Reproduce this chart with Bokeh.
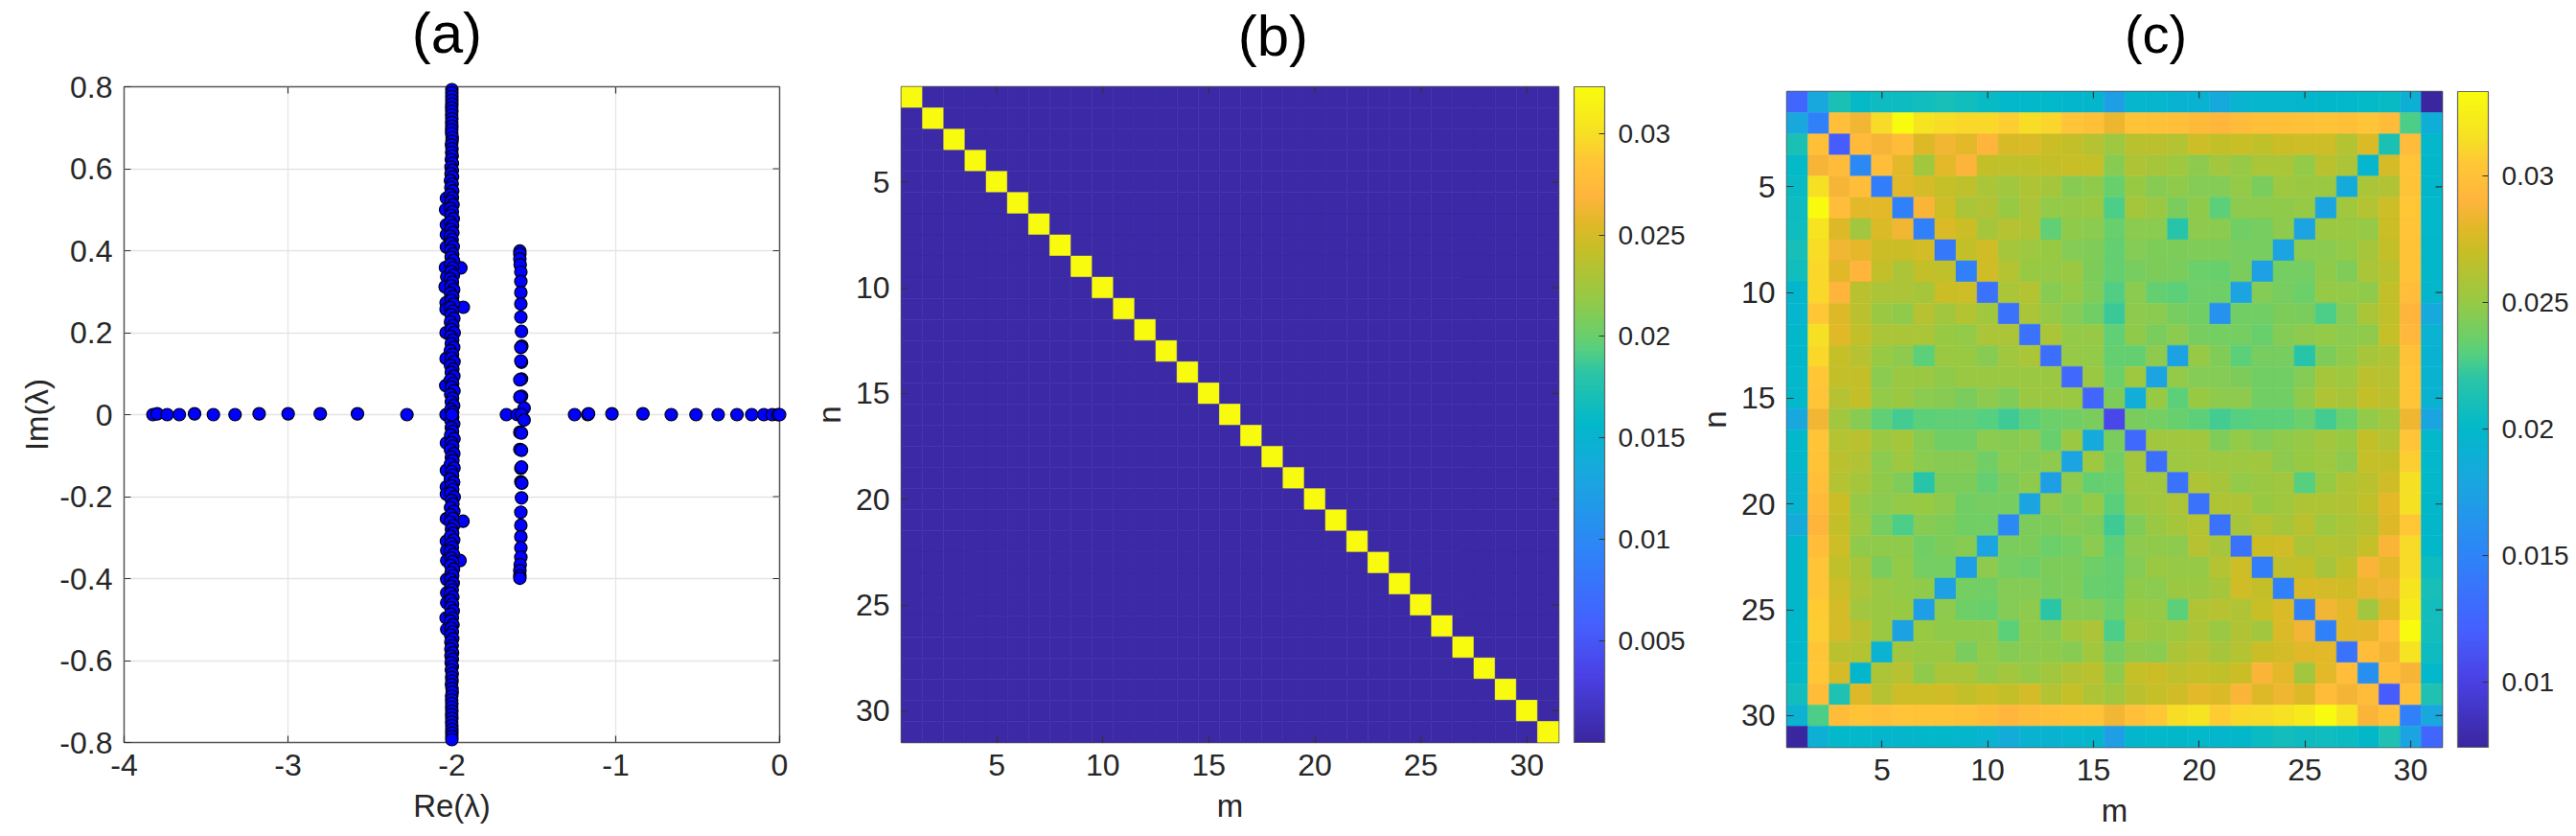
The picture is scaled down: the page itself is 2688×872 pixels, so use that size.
from bokeh.plotting import figure
from bokeh.models import (FixedTicker, ColorBar, LinearColorMapper, ColumnDataSource,
                          Range1d, NumeralTickFormatter)
from bokeh.core.properties import value
from bokeh.layouts import row
from bokeh.embed import file_html
from bokeh.resources import INLINE

# ---------- panel (a): eigenvalues (re, im) ----------
axis_points = [(-3.824,0),(-3.798,.002),(-3.737,0),(-3.663,0),(-3.570,.002),(-3.455,0),(-3.323,0),(-3.176,.002),
 (-2.999,.002),(-2.803,.002),(-2.576,.002),(-2.274,0),(-2.035,0),(-1.667,0),(-1.600,0),(-1.251,0),(-1.171,0),(-1.166,.002),
 (-1.023,.002),(-0.834,.002),(-0.661,0),(-0.510,0),(-0.375,0),(-0.260,0),(-0.170,0),(-0.096,0),(-0.045,0),(-0.010,0),(0,0)]
upper_outliers = [(-2.033,.528),(-2.038,.500),(-2.033,.463),(-2.033,.439),(-2.033,.409),(-2.039,.359),(-2.031,.336),
 (-2.041,.312),(-2.035,.273),(-2.035,.257),(-2.035,.200),(-2.035,.137),(-2.037,.071),(-1.945,.358),(-1.930,.262)]
lower_outliers = [(-2.033,-.069),(-2.033,-.136),(-2.033,-.176),(-2.033,-.194),(-2.033,-.254),(-2.033,-.309),(-2.031,-.331),
 (-2.031,-.356),(-2.031,-.402),(-2.031,-.435),(-2.031,-.459),(-2.035,-.496),(-2.031,-.524),(-1.932,-.260),(-1.950,-.356)]
upper_line = [(-2.000,.793),(-2.000,.785),(-2.000,.776),(-2.000,.767),(-2.000,.758),(-2.001,.749),(-2.000,.740),(-2.001,.731),
 (-2.000,.722),(-2.001,.713),(-2.000,.704),(-2.001,.695),(-2.001,.686),(-1.998,.676),(-1.999,.667),(-2.002,.658),(-1.999,.649),
 (-2.001,.640),(-1.998,.631),(-2.003,.622),(-1.997,.613),(-2.005,.604),(-1.997,.596),(-2.005,.588),(-1.996,.580),(-2.008,.571),
 (-1.998,.563),(-2.006,.554),(-1.995,.546),(-2.009,.537),(-1.997,.529),(-2.004,.520),(-1.993,.512),(-2.008,.503),(-1.997,.495),
 (-2.006,.486),(-1.992,.478),(-2.009,.470),(-1.996,.461),(-2.005,.452),(-1.994,.444),(-2.010,.435),(-1.998,.427),(-2.004,.418),
 (-1.992,.410),(-2.007,.401),(-1.995,.392),(-2.004,.384),(-1.990,.376),(-2.008,.367),(-1.996,.358),(-2.003,.349),(-1.991,.340),
 (-2.009,.332),(-1.997,.323),(-2.004,.314),(-1.989,.305),(-2.008,.296),(-1.995,.288),(-2.002,.279),(-1.990,.270),(-2.009,.261),
 (-1.996,.252),(-2.004,.244),(-1.988,.235),(-2.008,.226),(-1.994,.217),(-2.002,.208),(-1.986,.200),(-2.007,.191),(-1.995,.182),
 (-2.003,.173),(-1.989,.164),(-2.009,.156),(-1.996,.147),(-2.002,.138),(-1.987,.129),(-2.008,.120),(-1.994,.111),(-2.003,.103),
 (-1.988,.094),(-2.008,.085),(-1.995,.076),(-2.002,.067),(-1.987,.058),(-2.007,.049),(-1.996,.040),(-2.003,.031),(-1.989,.022),
 (-2.006,.013),(-1.995,.006)]
lower_line = [(-1.995,-.006),(-2.006,-.014),(-1.989,-.023),(-2.003,-.032),(-1.996,-.041),(-2.007,-.050),(-1.987,-.059),(-2.002,-.068),
 (-1.995,-.077),(-2.008,-.086),(-1.988,-.095),(-2.003,-.104),(-1.994,-.112),(-2.008,-.121),(-1.987,-.130),(-2.002,-.139),(-1.996,-.148),
 (-2.009,-.157),(-1.989,-.165),(-2.003,-.174),(-1.995,-.183),(-2.007,-.192),(-1.986,-.201),(-2.002,-.209),(-1.994,-.218),(-2.008,-.227),
 (-1.988,-.236),(-2.004,-.245),(-1.996,-.253),(-2.009,-.262),(-1.990,-.271),(-2.002,-.280),(-1.995,-.289),(-2.008,-.297),(-1.989,-.306),
 (-2.004,-.315),(-1.997,-.324),(-2.009,-.333),(-1.991,-.341),(-2.003,-.350),(-1.996,-.359),(-2.008,-.368),(-1.990,-.377),(-2.004,-.385),
 (-1.995,-.393),(-2.007,-.402),(-1.992,-.411),(-2.004,-.419),(-1.998,-.428),(-2.008,-.436),(-1.994,-.445),(-2.005,-.453),(-1.996,-.462),
 (-2.007,-.471),(-1.992,-.479),(-2.006,-.487),(-1.997,-.496),(-2.008,-.504),(-1.993,-.513),(-2.004,-.521),(-1.997,-.530),(-2.007,-.538),
 (-1.995,-.547),(-2.006,-.555),(-1.998,-.564),(-2.006,-.572),(-1.996,-.581),(-2.005,-.589),(-1.997,-.597),(-2.004,-.605),(-1.997,-.614),
 (-2.003,-.623),(-1.998,-.632),(-2.001,-.641),(-1.999,-.650),(-2.002,-.659),(-1.999,-.668),(-1.998,-.677),(-2.001,-.687),(-2.001,-.696),
 (-2.000,-.705),(-2.001,-.714),(-2.000,-.723),(-2.001,-.732),(-2.000,-.741),(-2.001,-.750),(-2.000,-.759),(-2.000,-.768),(-2.000,-.777),
 (-2.000,-.785),(-2.000,-.793)]
arc_points = [(-1.585,.399),(-1.585,.392),(-1.585,.380),(-1.583,.366),(-1.579,.348),(-1.579,.325),(-1.579,.298),(-1.579,.270),(-1.579,.238),
 (-1.575,.203),(-1.573,.167),(-1.579,.164),(-1.575,.128),(-1.579,.131),(-1.575,.087),(-1.585,.085),(-1.575,.045),(-1.585,.043),(-1.559,.016),
 (-1.575,0),(-1.559,-.013),(-1.585,-.043),(-1.575,-.045),(-1.585,-.085),(-1.575,-.087),(-1.579,-.131),(-1.575,-.128),(-1.579,-.164),(-1.573,-.167),
 (-1.575,-.203),(-1.579,-.238),(-1.579,-.270),(-1.579,-.298),(-1.579,-.325),(-1.579,-.348),(-1.583,-.366),(-1.585,-.381),(-1.585,-.393),(-1.585,-.399)]
center_point = [(-2.0,0)]

# ---------- panel (b) ----------
b_diagonal = 0.03226
b_background = 0.0003
b_ticks = [0.005, 0.01, 0.015, 0.02, 0.025, 0.03]

# ---------- panel (c) rows n = 1..31, columns m = 1..31 ----------
c_rows = [
 [.0125,.018,.0212,.0202,.0205,.0205,.0207,.021,.0207,.0203,.02,.02,.02,.0198,.0198,.0172,.0197,.0197,.0193,.0193,.0183,.0195,.0197,.0197,.0198,.0199,.02,.0201,.0203,.019,.0074],
 [.018,.0148,.0298,.0285,.0313,.0333,.0318,.0314,.0312,.0312,.0308,.0314,.0311,.0303,.0299,.0283,.0301,.03,.0298,.0294,.0291,.0295,.0298,.0299,.03,.0301,.0299,.0303,.0296,.0228,.0188],
 [.0212,.0299,.0118,.0294,.0287,.0296,.0278,.0285,.028,.029,.0276,.0277,.0271,.0268,.0263,.0253,.0264,.0265,.0262,.0272,.0268,.027,.0267,.0271,.0272,.0272,.0262,.0277,.0212,.0295,.02],
 [.0201,.0287,.0295,.0155,.0297,.028,.0254,.028,.0289,.0268,.0267,.0267,.0268,.027,.0269,.0245,.026,.0257,.0253,.0247,.0255,.025,.0258,.0258,.0249,.0264,.0259,.0196,.0275,.0303,.0199],
 [.0203,.0315,.0287,.0297,.0145,.028,.0275,.0269,.0266,.0258,.0254,.026,.0256,.0245,.0248,.0235,.0251,.0245,.0248,.0244,.0244,.0249,.0241,.0253,.0252,.0252,.0184,.0258,.0261,.0301,.0199],
 [.0205,.0333,.0297,.028,.028,.0148,.0288,.0272,.0258,.0261,.0251,.0259,.0249,.025,.0252,.0228,.0256,.0252,.0241,.0248,.0232,.0247,.0247,.0248,.025,.0178,.0254,.0262,.0272,.0305,.02],
 [.0206,.0318,.0278,.0255,.0277,.0285,.0148,.0277,.0271,.0256,.0263,.026,.0233,.0248,.0246,.0235,.0246,.0246,.0218,.0247,.0246,.0238,.024,.0247,.0176,.0252,.0252,.025,.0271,.0303,.02],
 [.021,.0314,.0285,.0281,.0271,.0271,.0274,.0142,.0268,.0273,.0256,.0253,.0251,.0244,.0243,.0234,.0244,.0242,.0242,.0243,.0243,.024,.024,.0176,.0246,.0246,.0249,.0256,.0268,.0301,.0199],
 [.0207,.0312,.0279,.029,.0268,.0259,.0268,.0267,.0148,.0273,.0262,.0251,.025,.0252,.0242,.0234,.024,.0242,.0241,.0236,.0235,.0241,.0174,.0239,.0239,.0248,.0243,.0258,.0264,.0301,.0199],
 [.0198,.0312,.029,.0264,.0259,.0259,.0257,.0271,.0272,.0135,.0258,.0262,.0245,.0249,.0243,.0229,.0246,.0234,.0232,.0237,.0237,.0176,.0244,.024,.0236,.025,.0249,.0248,.0268,.0297,.0198],
 [.0196,.0305,.0278,.0265,.0252,.0248,.0263,.0255,.0262,.0254,.0135,.0258,.025,.0244,.0238,.0224,.0247,.0246,.024,.0238,.0163,.0238,.0238,.0242,.0241,.0228,.0244,.0258,.0267,.029,.0182],
 [.0199,.0315,.0279,.0268,.0258,.0258,.0258,.0251,.0249,.0259,.0259,.0135,.0258,.0249,.025,.0233,.0248,.0241,.0246,.024,.0239,.0239,.0235,.0244,.0247,.0249,.0246,.0248,.0269,.0293,.0192],
 [.0199,.0312,.0269,.0263,.0251,.0247,.0232,.0252,.0251,.0245,.0254,.0258,.0132,.025,.0249,.0234,.0234,.0247,.0175,.025,.0243,.0232,.024,.024,.0218,.0242,.0248,.0257,.026,.03,.0193],
 [.02,.0305,.0268,.0268,.0246,.0252,.0252,.0248,.0252,.0252,.0252,.0252,.0252,.0127,.0252,.0236,.0253,.0176,.0249,.0244,.0244,.0242,.0238,.0238,.0244,.0256,.0253,.0265,.0263,.0303,.0194],
 [.02,.0303,.0263,.0268,.0249,.0252,.0246,.0245,.0241,.0247,.0243,.0252,.0252,.0252,.0125,.0242,.0186,.0251,.0232,.0251,.0247,.0247,.0238,.0238,.0248,.026,.0257,.0268,.0265,.0303,.0193],
 [.018,.0285,.0255,.0245,.0233,.0226,.0232,.0233,.0233,.023,.0225,.0232,.0236,.0238,.0241,.0105,.0241,.0239,.0235,.0232,.0226,.023,.0232,.0232,.0236,.0226,.0236,.0249,.0255,.0284,.0178],
 [.02,.0303,.0262,.0264,.0252,.0256,.0245,.0238,.0238,.0246,.0245,.0247,.0235,.0252,.0182,.0241,.0128,.0255,.0254,.0254,.0243,.0249,.0244,.0248,.025,.0255,.0251,.0268,.0262,.0303,.02],
 [.02,.0301,.0265,.0261,.0246,.0253,.0246,.0245,.0245,.0238,.0246,.0244,.0247,.0176,.0253,.0238,.0255,.0132,.0253,.0254,.0253,.0253,.0254,.0247,.0251,.0253,.0247,.0269,.0268,.0308,.02],
 [.0195,.0298,.0262,.0256,.0248,.0243,.0218,.0242,.0242,.0234,.0242,.0247,.0172,.0247,.0234,.0235,.0255,.0254,.0135,.026,.0257,.0249,.0252,.0254,.023,.0251,.026,.0264,.0273,.0315,.02],
 [.0195,.0294,.0271,.025,.0246,.0249,.0251,.0247,.0238,.024,.024,.0176,.0247,.0243,.0249,.0231,.0252,.0255,.0259,.0135,.026,.026,.0251,.0254,.026,.026,.0261,.0267,.028,.0315,.0199],
 [.0184,.029,.0268,.0253,.024,.0228,.0245,.0243,.0238,.0238,.0155,.0242,.0242,.0245,.0243,.0225,.0243,.0252,.0256,.0262,.0135,.0257,.0262,.0257,.0264,.0253,.0258,.0263,.0278,.0305,.0199],
 [.0198,.0297,.0272,.0248,.0248,.0248,.0238,.0242,.0245,.0176,.0241,.0242,.0236,.0239,.0246,.0232,.0247,.0248,.0247,.0263,.0257,.0135,.0271,.0273,.0258,.0262,.0261,.0269,.0288,.0313,.0199],
 [.0199,.0303,.0267,.0257,.0241,.0249,.0239,.0239,.0172,.0247,.0239,.0237,.0242,.0242,.0237,.0234,.0244,.0252,.025,.025,.0262,.0272,.0145,.0266,.0268,.0257,.0267,.0288,.028,.0313,.0205],
 [.0199,.0303,.0272,.0259,.0252,.0249,.0248,.0174,.0239,.0238,.0244,.0244,.0241,.0243,.0235,.0234,.0248,.0246,.0252,.0252,.0256,.0273,.0268,.0148,.0276,.0275,.0273,.0282,.0285,.0318,.021],
 [.0199,.0307,.0274,.0255,.0252,.0251,.0172,.0247,.0237,.0235,.0244,.0247,.0219,.0245,.0244,.0236,.0251,.025,.0232,.026,.0263,.026,.027,.0277,.0148,.0285,.028,.0255,.0279,.0322,.0208],
 [.02,.0308,.0275,.0265,.0252,.0175,.0251,.0248,.0248,.0248,.0232,.0248,.0245,.0254,.0259,.0228,.0254,.0252,.0253,.0259,.0252,.0261,.0255,.0277,.0286,.0148,.028,.0281,.0295,.0333,.0208],
 [.02,.0304,.0265,.0262,.0192,.0254,.0252,.0252,.0241,.0249,.0244,.0247,.0248,.0245,.0254,.024,.0248,.0246,.0259,.0263,.0257,.0262,.0271,.0274,.0279,.028,.0136,.0297,.0286,.0317,.0205],
 [.0201,.0305,.0275,.0198,.0259,.0263,.0248,.0258,.0258,.025,.0255,.025,.0255,.0261,.0264,.0248,.0269,.0271,.0266,.0269,.0267,.0271,.0288,.028,.0255,.028,.0297,.016,.0296,.0287,.02],
 [.0207,.0296,.0213,.0278,.0263,.0272,.0272,.0273,.0268,.0272,.0268,.0274,.0262,.0269,.026,.0254,.0265,.0269,.0273,.028,.0277,.0288,.0278,.0284,.0278,.0296,.0286,.0295,.0118,.0299,.0214],
 [.0192,.0228,.0296,.0302,.0298,.0303,.0302,.0301,.03,.0296,.0291,.0295,.0298,.03,.0302,.0285,.0298,.0305,.0314,.0317,.0307,.0312,.0313,.0316,.0322,.0333,.0318,.0288,.0299,.0148,.018],
 [.0074,.019,.02,.02,.0198,.0198,.0199,.0199,.0198,.0195,.0185,.0193,.0193,.0196,.0198,.0172,.0198,.02,.0199,.02,.0198,.0199,.0204,.0208,.0205,.0206,.0204,.0199,.0213,.0178,.0125],
]
c_ticks = [0.01, 0.015, 0.02, 0.025, 0.03]
heat_ticks = [5, 10, 15, 20, 25, 30]
a_xticks = [-4, -3, -2, -1, 0]
a_yticks = [-0.8, -0.6, -0.4, -0.2, 0, 0.2, 0.4, 0.6, 0.8]

# ---------- style ----------
FONT = "Liberation Sans"
TXT = "#262626"
EDGE = "#555555"
TICK = "#333333"
TICKLEN = 7
STOPS = [(0,"#3A27A0"),(.10,"#4A40E4"),(.178,"#4560FF"),(.293,"#2E84F8"),(.409,"#18A8DE"),(.486,"#02B8CA"),(.564,"#2CC5A6"),(.60,"#55CF80"),
         (.622,"#6ACF6B"),(.68,"#97C944"),(.757,"#C8BE26"),(.795,"#E2B828"),(.834,"#FFB43C"),(.892,"#FFC736"),(.93,"#F6E024"),(1,"#F9FB0E")]

def make_palette(n=256):
    out = []
    for i in range(n):
        t = i / (n - 1)
        for (a, ca), (b, cb) in zip(STOPS, STOPS[1:]):
            if a <= t <= b:
                f = (t - a) / (b - a)
                rgb = [round(int(ca[k:k+2], 16) * (1 - f) + int(cb[k:k+2], 16) * f) for k in (1, 3, 5)]
                out.append("#%02X%02X%02X" % tuple(rgb))
                break
    return out
PALETTE = make_palette()

def style_axis(ax, ticks, size="32px", standoff=12, label_standoff=6):
    ax.ticker = FixedTicker(ticks=ticks)
    ax.major_label_overrides = {t: ("%g" % t) for t in ticks}
    ax.major_tick_in = TICKLEN
    ax.major_tick_out = 0
    ax.minor_tick_line_color = None
    ax.major_tick_line_color = TICK
    ax.major_tick_line_width = 1.2
    ax.axis_line_color = None
    ax.major_label_text_font = FONT
    ax.major_label_text_font_size = size
    ax.major_label_text_color = TXT
    ax.major_label_standoff = standoff
    ax.axis_label_text_font = FONT
    ax.axis_label_text_font_size = "33px"
    ax.axis_label_text_font_style = "normal"
    ax.axis_label_text_color = TXT
    ax.axis_label_standoff = label_standoff

def mirror_ticks(p, xr, yr, w, h, xt, yt):
    """MATLAB 'box on' ticks on the top and right edges (no labels)."""
    dy = (yr.end - yr.start) / h * TICKLEN
    dx = (xr.end - xr.start) / w * TICKLEN
    p.segment(xt, [yr.end] * len(xt), xt, [yr.end - dy] * len(xt), line_color=TICK, line_width=1.2)
    p.segment([xr.end] * len(yt), yt, [xr.end - dx] * len(yt), yt, line_color=TICK, line_width=1.2)

def base_fig(xr, yr, w, h, left, right, top, bottom):
    p = figure(x_range=xr, y_range=yr, frame_width=w, frame_height=h,
               min_border_left=left, min_border_right=right, min_border_top=top, min_border_bottom=bottom,
               toolbar_location=None, output_backend="svg")
    p.outline_line_color = EDGE
    p.outline_line_width = 1.5
    p.background_fill_color = "white"
    return p

def panel_title(p, text, x, y, size="60px"):
    p.text([x], [y], text=[text], text_align="center", text_baseline="middle",
           text_font=value(FONT), text_font_size=size, text_color="#000000", level="overlay")

# ---------- (a) ----------
ax_r, ay_r = Range1d(-4, 0), Range1d(-0.8, 0.8)
pa = base_fig(ax_r, ay_r, 684, 684, 129, 15, 90, 94)
style_axis(pa.xaxis[0], a_xticks, label_standoff=10)
style_axis(pa.yaxis[0], a_yticks, label_standoff=2)
pa.xaxis[0].axis_label = "Re(λ)"
pa.yaxis[0].axis_label = "Im(λ)"
pa.grid.grid_line_color = "#E4E4E4"
pa.grid.grid_line_width = 1.3
mirror_ticks(pa, ax_r, ay_r, 684, 684, a_xticks[1:-1], a_yticks[1:-1])
all_points = axis_points + arc_points + upper_outliers + lower_outliers + upper_line + lower_line + center_point
pa.scatter([q[0] for q in all_points], [q[1] for q in all_points], size=13, marker="circle",
           fill_color="#0000FF", line_color="#000010", line_width=1.2, level="overlay")
panel_title(pa, "(a)", -2.03, 0.930)

# ---------- heat panels ----------
def heat_panel(title, tx, ty, tsize, matrix, low, high, cticks, w, left, right, top, bottom, bar_offset):
    xr, yr = Range1d(0.5, 31.5), Range1d(31.5, 0.5)
    p = base_fig(xr, yr, w, 684, left, right, top, bottom)
    style_axis(p.xaxis[0], heat_ticks, label_standoff=10)
    style_axis(p.yaxis[0], heat_ticks, label_standoff=6)
    p.xaxis[0].axis_label = "m"
    p.yaxis[0].axis_label = "n"
    p.grid.visible = False
    mapper = LinearColorMapper(palette=PALETTE, low=low, high=high)
    xs, ys, vs = [], [], []
    for i, r in enumerate(matrix):
        for j, v in enumerate(r):
            xs.append(j + 1); ys.append(i + 1); vs.append(v)
    src = ColumnDataSource(dict(x=xs, y=ys, v=vs))
    p.rect("x", "y", 1, 1, source=src, fill_color={"field": "v", "transform": mapper},
           line_color={"field": "v", "transform": mapper}, line_width=0.5)
    mirror_ticks(p, xr, yr, w, 684, heat_ticks, heat_ticks)
    cb = ColorBar(color_mapper=mapper, width=32, height=684, padding=0, margin=0, location=(bar_offset, 0),
                  ticker=FixedTicker(ticks=cticks), formatter=NumeralTickFormatter(format="0.[000]"),
                  major_tick_in=6, major_tick_out=0, major_tick_line_color=TICK, major_tick_line_width=1.2,
                  minor_tick_line_color=None, bar_line_color="#666666", bar_line_width=1.2,
                  major_label_text_font=FONT, major_label_text_font_size="28px", major_label_text_color=TXT,
                  label_standoff=14, border_line_color=None, background_fill_color=None)
    p.add_layout(cb, "right")
    panel_title(p, title, tx, ty, tsize)
    return p

b_matrix = [[b_diagonal if i == j else b_background for j in range(31)] for i in range(31)]
pb = heat_panel("(b)", 18.03, -1.92, "60px", b_matrix, 0.0, 0.0323, b_ticks, 686, 112, 141, 90, 94, 16)
pc = heat_panel("(c)", 17.95, -2.22, "56px", c_rows, 0.00742, 0.03334, c_ticks, 684, 91, 132, 90, 88, 16)
pc.margin = (5, 0, 0, 0)

layout = row(pa, pb, pc, spacing=0, margin=0)
open("out.html", "w").write(file_html(layout, INLINE))
